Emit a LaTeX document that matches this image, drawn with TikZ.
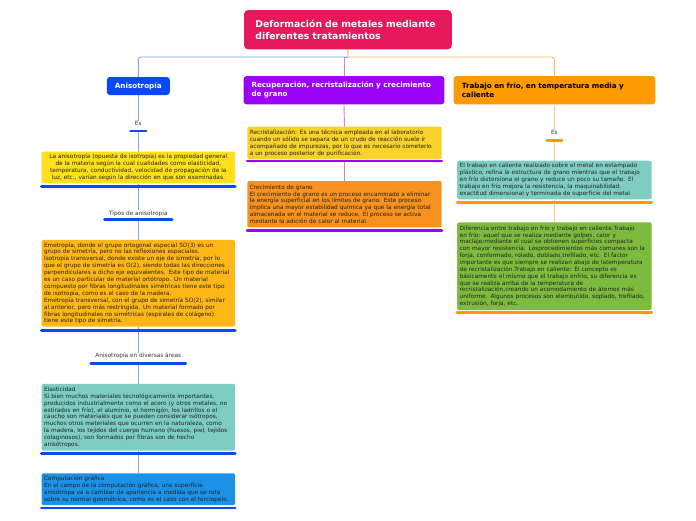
\documentclass[tikz,border=0pt]{standalone}
\usepackage{fontspec}
\setmainfont{DejaVu Sans}
\usetikzlibrary{backgrounds}
\definecolor{cTitle}{HTML}{E6195C}
\definecolor{cAniso}{HTML}{0A47FF}
\definecolor{cLineB}{HTML}{7FA4FF}
\definecolor{cBarB}{HTML}{0A4BF5}
\definecolor{cYel}{HTML}{FFE01A}
\definecolor{cAmb}{HTML}{FFB718}
\definecolor{cTeal}{HTML}{7ECDC1}
\definecolor{cBlue}{HTML}{1B92E8}
\definecolor{cPur}{HTML}{9B00F7}
\definecolor{cLineP}{HTML}{CC77FF}
\definecolor{cBarP}{HTML}{9E00FF}
\definecolor{cYelB}{HTML}{F9D22A}
\definecolor{cOrgB}{HTML}{F7921F}
\definecolor{cOrgH}{HTML}{FF9A00}
\definecolor{cLineO}{HTML}{FFC880}
\definecolor{cBarO}{HTML}{FF9900}
\definecolor{cGreen}{HTML}{7CBB3D}
\definecolor{cTxt}{HTML}{222222}
\definecolor{cLab}{HTML}{333333}
\begin{document}
\begin{tikzpicture}[x=1pt,y=-1pt,
 body/.style={rounded corners=2pt, inner xsep=2.5pt, inner ysep=0pt, text width=188.5pt, align=left, font=\fontsize{5.8}{6.9}\selectfont, text=cTxt},
 head/.style={rounded corners=3pt, inner ysep=0pt, align=left, font=\bfseries\fontsize{7.2}{9}\selectfont},
 lab/.style={inner sep=0pt, font=\fontsize{5.8}{6.9}\selectfont, text=cLab},
 link/.style={line width=0.9pt},
 bar/.style={line width=2.7pt, line cap=round}]
\useasboundingbox (0,0) rectangle (696,520);

% headers
\node[head, fill=cTitle, text=white, font=\bfseries\fontsize{9.3}{12.7}\selectfont, rounded corners=4pt, minimum width=207.7pt, minimum height=39.3pt, text width=190pt, inner xsep=8.85pt] (title) at (347.9,29.7) {\mbox{\hspace{2.5pt}Deformación de metales mediante}\\\mbox{\hspace{2.5pt}diferentes tratamientos}};
\node[head, fill=cAniso, text=white, minimum width=63pt, minimum height=18pt, align=center] (aniso) at (138.3,86) {Anisotropía};
\node[head, fill=cPur, text=white, text width=188pt, inner xsep=6.35pt, minimum height=28.3pt] (recup) at (344,90.2) {\mbox{\hspace{1.5pt}Recuperación, recristalización y crecimiento}\\\mbox{\hspace{1.5pt}de grano}};
\node[head, fill=cOrgH, text=black, text width=188pt, inner xsep=6.85pt, minimum height=28.3pt] (trab) at (554.4,90.2) {\mbox{\hspace{1.5pt}Trabajo en frío, en temperatura media y}\\\mbox{\hspace{1.5pt}caliente}};
\coordinate (hub) at (348,57);

% left column
\node[lab, minimum width=15.3pt] (es1) at (138.3,123.5) {Es};
\coordinate (es1b) at ([yshift=-7.5pt]es1.center);
\draw[bar,cBarB] ([yshift=-7.5pt]es1.west) -- ([yshift=-7.5pt]es1.east);

\node[body, fill=cYel, align=center, minimum height=31.6pt] (ly) at (138.3,167.5) {La anisotropía (opuesta de isotropía) es la propiedad general\\de la materia según la cual cualidades como elasticidad,\\temperatura, conductividad, velocidad de propagación de la\\luz, etc., varían según la dirección en que son examinadas.};
\draw[bar,cBarB] ([yshift=-2.7pt]ly.south west) -- ([yshift=-2.7pt]ly.south east);

\node[lab, minimum width=67.3pt] (tipos) at (138.3,213.3) {Tipos de anisotropía};
\coordinate (tiposb) at ([yshift=-6.4pt]tipos.center);
\draw[bar,cBarB] ([yshift=-6.4pt]tipos.west) -- ([yshift=-6.4pt]tipos.east);

\node[body, fill=cAmb, minimum height=86.7pt] (la) at (138.3,283.3) {Emetropía, donde el grupo ortogonal especial SO(3) es un\\grupo de simetría, pero no las reflexiones espaciales.\\Isotropía transversal, donde existe un eje de simetría, por lo\\que el grupo de simetría es O(2), siendo todas las direcciones\\perpendiculares a dicho eje equivalentes. Este tipo de material\\es un caso particular de material ortótropo. Un material\\compuesto por fibras longitudinales simétricas tiene este tipo\\de isotropía, como es el caso de la madera.\\Emetropía transversal, con el grupo de simetría SO(2), similar\\al anterior, pero más restringida. Un material formado por\\fibras longitudinales no simétricas (espirales de colágeno)\\tiene este tipo de simetría.};
\draw[bar,cBarB] ([yshift=-3.3pt]la.south west) -- ([yshift=-3.3pt]la.south east);

\node[lab, minimum width=94.7pt] (areas) at (138.3,355.7) {Anisotropía en diversas áreas};
\coordinate (areasb) at ([yshift=-8pt]areas.center);
\draw[bar,cBarB] ([yshift=-8pt]areas.west) -- ([yshift=-8pt]areas.east);

\node[body, fill=cTeal, minimum height=66.7pt] (lt) at (138.3,417.3) {Elasticidad\\Si bien muchos materiales tecnológicamente importantes,\\producidos industrialmente como el acero (y otros metales, no\\estirados en frío), el aluminio, el hormigón, los ladrillos o el\\caucho son materiales que se pueden considerar isótropos,\\muchos otros materiales que ocurren en la naturaleza, como\\la madera, los tejidos del cuerpo humano (huesos, piel, tejidos\\colaginosos), son formados por fibras son de hecho\\anisótropos.};
\draw[bar,cBarB] ([yshift=-2.6pt]lt.south west) -- ([yshift=-2.6pt]lt.south east);

\node[body, fill=cBlue, minimum height=31.7pt] (lb) at (138.3,489.2) {Computación gráfica\\En el campo de la computación gráfica, una superficie\\anisótropa va a cambiar de apariencia a medida que se rota\\sobre su normal geométrica, como es el caso con el terciopelo.};
\draw[bar,cBarB] ([yshift=-2.7pt]lb.south west) -- ([yshift=-2.7pt]lb.south east);

% middle column
\node[body, fill=cYelB, text width=189.4pt, minimum height=32.6pt] (my) at (344.5,143) {Recristalización: Es una técnica empleada en el laboratorio\\cuando un sólido se separa de un crudo de reacción suele ir\\acompañado de impurezas, por lo que es necesario someterlo\\a un proceso posterior de purificación.};
\draw[bar,cBarP] ([yshift=-1.6pt]my.south west) -- ([yshift=-1.6pt]my.south east);

\node[body, fill=cOrgB, text width=189.4pt, minimum height=46.3pt] (mo) at (344.5,204.2) {Crecimiento de grano\\El crecimiento de grano es un proceso encaminado a eliminar\\la energía superficial en los límites de grano. Este proceso\\implica una mayor estabilidad química ya que la energía total\\almacenada en el material se reduce. El proceso se activa\\mediante la adición de calor al material.};
\draw[bar,cBarP] ([yshift=-2.7pt]mo.south west) -- ([yshift=-2.7pt]mo.south east);

% right column
\node[lab, minimum width=14.6pt] (es2) at (554.4,132.7) {Es};
\coordinate (es2b) at ([yshift=-7.6pt]es2.center);
\draw[bar,cBarO] ([yshift=-7.6pt]es2.west) -- ([yshift=-7.6pt]es2.east);

\node[body, fill=cTeal, text width=189.4pt, minimum height=38.6pt] (rt) at (554.4,180) {El trabajo en caliente realizado sobre el metal en estampado\\plástico, refina la estructura de grano mientras que el trabajo\\en frío distorsiona el grano y reduce un poco su tamaño. El\\trabajo en frío mejora la resistencia, la maquinabilidad,\\exactitud dimensional y terminada de superficie del metal};
\draw[bar,cBarO] ([yshift=-2.7pt]rt.south west) -- ([yshift=-2.7pt]rt.south east);

\node[body, fill=cGreen, text width=189.4pt, minimum height=87.7pt, font=\fontsize{5.8}{6.85}\selectfont] (rg) at (554.4,266.2) {Diferencia entre trabajo en frío y trabajo en caliente.Trabajo\\en frío: aquel que se realiza mediante golpes, calor y\\maclaje;mediante el cual se obtienen superficies compacta\\con mayor resistencia. Losprocedimientos más comunes son la\\forja, conformado, rolado, doblado,trefilado, etc. El factor\\importante es que siempre se realizan abajo de latemperatura\\de recristalización.Trabajo en caliente: El concepto es\\básicamente el mismo que el trabajo enfrío, su diferencia es\\que se realiza arriba de la temperatura de\\recristalización,creando un acomodamiento de átomos más\\uniforme. Algunos procesos son elembutido, soplado, trefilado,\\extrusión, forja, etc.};
\draw[bar,cBarO] ([yshift=-2.3pt]rg.south west) -- ([yshift=-2.3pt]rg.south east);

% connectors
\begin{scope}[on background layer]
\fill[white] (0,0) rectangle (696,520);
\draw[link, cLineP] (hub) -| (recup.north);
\draw[link, cLineB, rounded corners=3pt] (hub) -| (aniso.north);
\draw[link, cLineO!80!orange, rounded corners=3pt] (hub) -| (trab.north);
\draw[link, cOrgH!80] (title.south) -- (hub);
\draw[link, cLineB] (aniso.south) -- (es1.north);
\draw[link, cLineB] (es1b) -- (ly.north);
\draw[link, cLineB] (ly.south) -- (tipos.north);
\draw[link, cLineB] (tiposb) -- (la.north);
\draw[link, cLineB] (la.south) -- (areas.north);
\draw[link, cLineB] (areasb) -- (lt.north);
\draw[link, cLineB] (lt.south) -- (lb.north);
\draw[link, cLineP] (recup.south) -- (my.north);
\draw[link, cLineP] (my.south) -- (mo.north);
\draw[link, cLineO] (trab.south) -- (es2.north);
\draw[link, cLineO] (es2b) -- (rt.north);
\draw[link, cLineO] (rt.south) -- (rg.north);
\end{scope}
\end{tikzpicture}
\end{document}
